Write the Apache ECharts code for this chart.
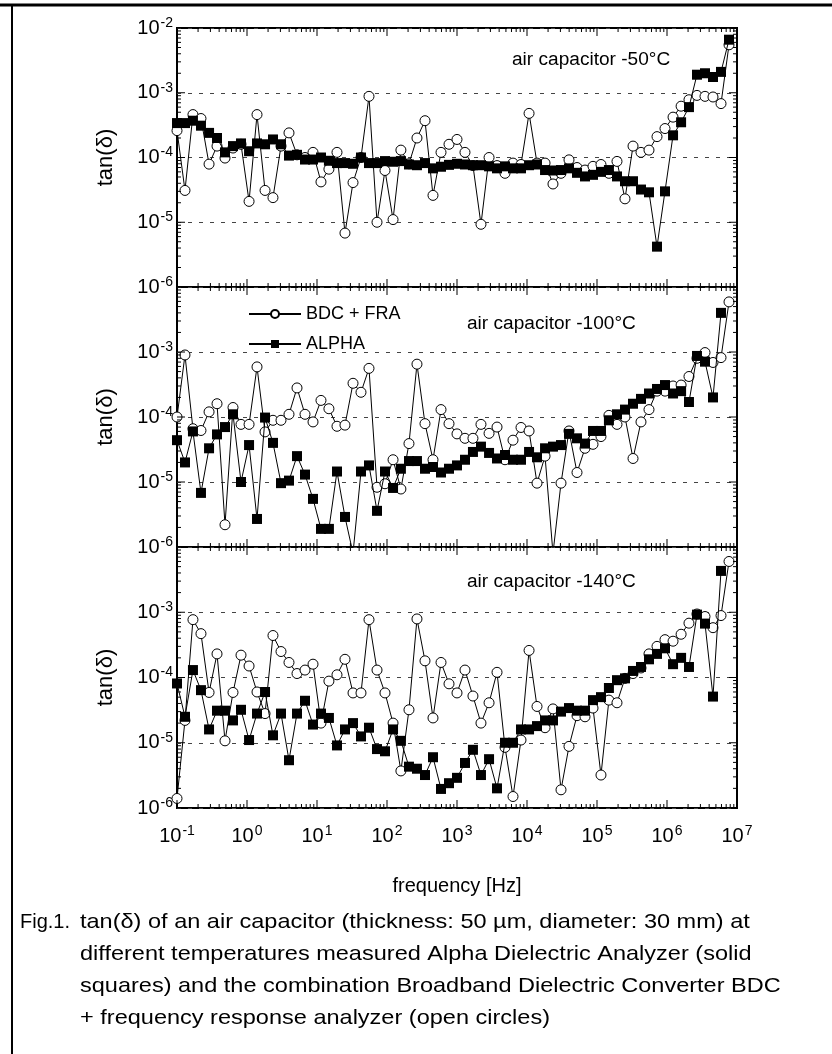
<!DOCTYPE html>
<html>
<head>
<meta charset="utf-8">
<script src="https://cdn.jsdelivr.net/npm/echarts@6/dist/echarts.min.js"></script>
<style>
  html, body { margin: 0; padding: 0; background: #fff; }
  #chart { width: 832px; height: 1054px; }
</style>
</head>
<body>
<div id="chart"></div>
<script>
// measurement frequencies [Hz]
const freq = [
  0.1, 0.13, 0.169, 0.22, 0.287, 0.373, 0.485, 0.631, 0.821,
  1.07, 1.39, 1.81, 2.35, 3.06, 3.98, 5.18, 6.74, 8.77,
  11.4, 14.8, 19.3, 25.1, 32.7, 42.5, 55.3, 72, 93.6,
  122, 158, 206, 268, 349, 454, 591, 769,
  1000, 1300, 1690, 2200, 2870, 3730, 4850, 6310, 8210,
  10700, 13900, 18100, 23500, 30600, 39800, 51800, 67400, 87700,
  114000, 148000, 193000, 251000, 327000, 425000, 553000, 720000, 936000,
  1220000, 1590000, 2060000, 2680000, 3490000, 4540000, 5910000, 7690000
];

// -50°C
const bdc50 = [
  2.6e-4, 3.1e-5, 4.6e-4, 4.0e-4, 7.9e-5, 1.5e-4, 9.8e-5, 1.4e-4, 1.6e-4, 2.1e-5,
  4.6e-4, 3.1e-5, 2.4e-5, 1.5e-4, 2.4e-4, 1.1e-4, 1.0e-4, 1.2e-4, 4.2e-5, 6.6e-5,
  1.2e-4, 6.8e-6, 4.1e-5, 1.0e-4, 8.8e-4, 1.0e-5, 6.3e-5, 1.1e-5, 1.3e-4, 8.0e-5,
  2.0e-4, 3.7e-4, 2.6e-5, 1.2e-4, 1.6e-4, 1.9e-4, 1.2e-4, 7.5e-5, 9.3e-6, 1.0e-4,
  7.5e-5, 5.7e-5, 8.2e-5, 7.8e-5, 4.8e-4, 8.2e-5, 8.2e-5, 3.9e-5, 5.7e-5, 9.2e-5,
  7.0e-5, 6.4e-5, 7.3e-5, 7.8e-5, 5.7e-5, 8.7e-5, 2.3e-5, 1.5e-4, 1.2e-4, 1.3e-4,
  2.1e-4, 2.8e-4, 4.2e-4, 6.2e-4, 7.8e-4, 9.1e-4, 8.8e-4, 8.6e-4, 6.8e-4, 5.5e-3
];
const alpha50 = [
  3.4e-4, 3.4e-4, 3.7e-4, 3.1e-4, 2.4e-4, 2.0e-4, 1.2e-4, 1.5e-4, 1.65e-4, 1.25e-4,
  1.65e-4, 1.6e-4, 1.9e-4, 1.6e-4, 1.07e-4, 1.1e-4, 9.3e-5, 9.3e-5, 1.0e-4, 8.9e-5,
  8.2e-5, 8.2e-5, 8.0e-5, 1.0e-4, 8.2e-5, 8.2e-5, 8.8e-5, 8.6e-5, 8.8e-5, 7.8e-5,
  7.6e-5, 8.2e-5, 6.8e-5, 7.2e-5, 7.7e-5, 8.0e-5, 7.8e-5, 7.6e-5, 7.6e-5, 7.3e-5,
  6.8e-5, 7.3e-5, 6.8e-5, 6.8e-5, 7.6e-5, 7.8e-5, 6.4e-5, 6.3e-5, 6.4e-5, 6.8e-5,
  5.8e-5, 5.1e-5, 5.4e-5, 6.0e-5, 6.4e-5, 5.1e-5, 4.3e-5, 4.3e-5, 3.2e-5, 2.9e-5,
  4.2e-6, 3.0e-5, 2.2e-4, 3.5e-4, 6.0e-4, 1.9e-3, 2.0e-3, 1.75e-3, 2.1e-3, 6.6e-3
];

// -100°C
const bdc100 = [
  1.0e-4, 9.0e-4, 6.6e-5, 6.2e-5, 1.2e-4, 1.6e-4, 2.2e-6, 1.4e-4, 7.7e-5, 7.7e-5,
  5.9e-4, 5.9e-5, 8.9e-5, 8.9e-5, 1.1e-4, 2.8e-4, 1.1e-4, 8.4e-5, 1.8e-4, 1.34e-4,
  7.2e-5, 7.5e-5, 3.3e-4, 2.4e-4, 5.6e-4, 8.3e-6, 9.4e-6, 2.2e-5, 7.8e-6, 3.9e-5,
  6.5e-4, 7.9e-5, 2.2e-5, 1.3e-4, 7.9e-5, 5.5e-5, 4.7e-5, 4.7e-5, 7.7e-5, 5.6e-5,
  7.0e-5, 2.2e-5, 4.4e-5, 6.9e-5, 6.1e-5, 9.6e-6, 2.5e-5, 8.0e-7, 9.6e-6, 6.1e-5,
  1.4e-5, 3.3e-5, 3.8e-5, 5.0e-5, 1.06e-4, 7.7e-5, 1.0e-4, 2.3e-5, 8.4e-5, 1.3e-4,
  2.5e-4, 2.5e-4, 3.0e-4, 3.1e-4, 4.2e-4, 8.0e-4, 9.8e-4, 6.9e-4, 8.2e-4, 5.9e-3
];
const alpha100 = [
  4.4e-5, 2.0e-5, 6.0e-5, 6.8e-6, 3.3e-5, 5.4e-5, 7.0e-5, 1.1e-4, 1.0e-5, 3.7e-5,
  2.7e-6, 9.8e-5, 4.0e-5, 9.6e-6, 1.05e-5, 2.5e-5, 1.3e-5, 5.5e-6, 1.9e-6, 1.9e-6,
  1.45e-5, 2.9e-6, 8.0e-7, 1.45e-5, 1.8e-5, 3.6e-6, 1.45e-5, 8.1e-6, 1.6e-5, 2.1e-5,
  2.1e-5, 1.6e-5, 1.7e-5, 1.4e-5, 1.6e-5, 1.8e-5, 2.2e-5, 2.9e-5, 3.5e-5, 2.8e-5,
  2.3e-5, 2.6e-5, 2.2e-5, 2.2e-5, 2.9e-5, 2.4e-5, 3.3e-5, 3.5e-5, 3.7e-5, 5.5e-5,
  4.7e-5, 3.9e-5, 6.1e-5, 6.1e-5, 8.9e-5, 1.1e-4, 1.3e-4, 1.6e-4, 1.9e-4, 2.3e-4,
  2.7e-4, 3.1e-4, 2.3e-4, 2.5e-4, 1.7e-4, 8.7e-4, 7.1e-4, 2.0e-4, 4.0e-3, null
];

// -140°C
const bdc140 = [
  1.4e-6, 2.2e-5, 7.7e-4, 4.7e-4, 5.9e-5, 2.3e-4, 1.07e-5, 5.9e-5, 2.2e-4, 1.5e-4,
  6.0e-5, 2.8e-5, 4.4e-4, 2.5e-4, 1.7e-4, 1.15e-4, 1.3e-4, 1.6e-4, 2.0e-5, 8.8e-5,
  1.1e-4, 1.9e-4, 5.8e-5, 5.8e-5, 7.7e-4, 1.3e-4, 5.8e-5, 2.0e-5, 3.7e-6, 3.2e-5,
  7.9e-4, 1.8e-4, 2.4e-5, 1.7e-4, 8.0e-5, 5.8e-5, 1.3e-4, 5.2e-5, 2.0e-5, 4.1e-5,
  1.2e-4, 8.5e-6, 1.5e-6, 1.1e-5, 2.6e-4, 3.6e-5, 1.7e-5, 3.3e-5, 1.9e-6, 8.8e-6,
  2.6e-5, 2.5e-5, 3.4e-5, 3.2e-6, 4.5e-5, 4.1e-5, 9.7e-5, 1.15e-4, 1.4e-4, 2.3e-4,
  3.0e-4, 3.8e-4, 3.6e-4, 4.6e-4, 6.8e-4, 9.4e-4, 8.6e-4, 5.8e-4, 8.9e-4, 6.0e-3
];
const alpha140 = [
  8.1e-5, 2.5e-5, 1.3e-4, 6.4e-5, 1.6e-5, 3.1e-5, 3.1e-5, 2.2e-5, 3.2e-5, 1.1e-5,
  2.8e-5, 6.0e-5, 1.3e-5, 2.8e-5, 5.4e-6, 2.8e-5, 4.4e-5, 1.9e-5, 2.8e-5, 2.4e-5,
  9.1e-6, 1.6e-5, 2.0e-5, 1.25e-5, 1.7e-5, 8.0e-6, 7.4e-6, 1.6e-5, 1.07e-5, 4.3e-6,
  4.0e-6, 3.2e-6, 6.0e-6, 1.96e-6, 2.4e-6, 2.9e-6, 4.9e-6, 7.8e-6, 3.2e-6, 5.6e-6,
  2.0e-6, 1.0e-5, 1.0e-5, 1.6e-5, 1.6e-5, 1.8e-5, 2.2e-5, 2.2e-5, 3.0e-5, 3.4e-5,
  3.1e-5, 3.1e-5, 4.5e-5, 5.0e-5, 6.9e-5, 9.1e-5, 9.7e-5, 1.26e-4, 1.45e-4, 1.9e-4,
  2.3e-4, 2.8e-4, 1.6e-4, 2.0e-4, 1.45e-4, 9.2e-4, 6.7e-4, 5.1e-5, 4.3e-3, null
];

const panelLabels = ['air capacitor -50°C', 'air capacitor -100°C', 'air capacitor -140°C'];
const seriesNames = ['BDC + FRA', 'ALPHA'];
const xExponents = [-1, 7];
const yExponents = [-6, -2];
const captionHead = 'Fig.1.';
const captionLines = [
  'tan(δ) of an air capacitor (thickness: 50 µm, diameter: 30 mm) at',
  'different temperatures measured Alpha Dielectric Analyzer (solid',
  'squares) and the combination Broadband Dielectric Converter BDC',
  '+ frequency response analyzer (open circles)'
];

const FONT = '"Liberation Sans", Arial, sans-serif';
const NARROW = '"Liberation Sans Narrow", "Liberation Sans", Arial, sans-serif';
const X_MIN = Math.pow(10, xExponents[0]), X_MAX = Math.pow(10, xExponents[1]);
const Y_MIN = Math.pow(10, yExponents[0]), Y_MAX = Math.pow(10, yExponents[1]);

const panels = [
  { top: 28, height: 259, bdc: bdc50, alpha: alpha50, label: panelLabels[0], lx: 512, ly: 60 },
  { top: 287, height: 260, bdc: bdc100, alpha: alpha100, label: panelLabels[1], lx: 467, ly: 324 },
  { top: 547, height: 261, bdc: bdc140, alpha: alpha140, label: panelLabels[2], lx: 467, ly: 582 }
];
const GRID_LEFT = 177, GRID_WIDTH = 560;

// tick positions (decades + 2..9 in between)
const xTicks = [];
for (let e = xExponents[0]; e <= xExponents[1]; e++) {
  xTicks.push([Math.pow(10, e), 1e-4, 1]);
  if (e < xExponents[1]) for (let k = 2; k <= 9; k++) xTicks.push([k * Math.pow(10, e), 1e-4, 0]);
}
const yTicks = [];
for (let e = yExponents[0]; e <= yExponents[1]; e++) {
  yTicks.push([1, Math.pow(10, e), 1]);
  if (e < yExponents[1]) for (let k = 2; k <= 9; k++) yTicks.push([1, k * Math.pow(10, e), 0]);
}

const powLabel = v => '{b|10}{s|' + Math.round(Math.log10(v)) + '}';
// lower panels leave the top label to the panel above
const powLabelNoTop = v => (v >= Y_MAX * 0.999 ? '' : powLabel(v));
const powRich = {
  b: { fontSize: 20, lineHeight: 24, fontFamily: FONT, color: '#000' },
  s: { fontSize: 14, verticalAlign: 'top', fontFamily: FONT, color: '#000', padding: [0, 0, 0, 1] }
};

const tickLine = (x1, y1, x2, y2) => ({
  type: 'line', shape: { x1, y1, x2, y2 }, style: { stroke: '#000', lineWidth: 1 }
});

const grids = [], xAxes = [], yAxes = [], series = [];

panels.forEach((p, g) => {
  grids.push({
    left: GRID_LEFT, width: GRID_WIDTH, top: p.top, height: p.height,
    show: true, borderColor: '#000', borderWidth: 2, backgroundColor: 'transparent'
  });
  xAxes.push({
    type: 'log', logBase: 10, gridIndex: g, min: X_MIN, max: X_MAX, splitNumber: 8,
    axisLine: { show: false }, axisTick: { show: false }, splitLine: { show: false },
    axisLabel: g === 2
      ? { show: true, margin: 16, formatter: powLabel, rich: powRich }
      : { show: false },
    name: g === 2 ? 'frequency [Hz]' : '',
    nameLocation: 'middle', nameGap: 68,
    nameTextStyle: { fontSize: 20, fontFamily: NARROW, color: '#000' }
  });
  yAxes.push({
    type: 'log', logBase: 10, gridIndex: g, min: Y_MIN, max: Y_MAX, splitNumber: 4,
    axisLine: { show: false }, axisTick: { show: false },
    splitLine: { show: true, lineStyle: { color: '#444', width: 1, type: [4, 7] } },
    axisLabel: {
      show: true, margin: 4, formatter: g === 0 ? powLabel : powLabelNoTop, rich: powRich
    },
    name: 'tan(δ)', nameLocation: 'middle', nameGap: 60, nameRotate: 90,
    nameTextStyle: { fontSize: 22, fontFamily: NARROW, color: '#000' }
  });

  series.push({
    name: seriesNames[0], type: 'line', xAxisIndex: g, yAxisIndex: g,
    data: freq.map((f, i) => [f, p.bdc[i]]),
    symbol: 'circle', symbolSize: 10, connectNulls: true,
    lineStyle: { color: '#000', width: 1 },
    itemStyle: { color: '#fff', borderColor: '#000', borderWidth: 1 },
    emphasis: { disabled: true }, z: 3
  });
  series.push({
    name: seriesNames[1], type: 'line', xAxisIndex: g, yAxisIndex: g,
    data: freq.map((f, i) => [f, p.alpha[i]]),
    symbol: 'rect', symbolSize: 10, connectNulls: true,
    lineStyle: { color: '#000', width: 1 },
    itemStyle: { color: '#000', borderColor: '#000', borderWidth: 0 },
    emphasis: { disabled: true }, z: 4
  });

  // inward ticks on all four sides
  series.push({
    type: 'custom', xAxisIndex: g, yAxisIndex: g, data: xTicks, silent: true, z: 5,
    encode: { x: 0, y: 1 },
    renderItem: (params, api) => {
      const v = api.value(0);
      const len = api.value(2) ? 8 : 4;
      const b = api.coord([v, Y_MIN]);
      const t = api.coord([v, Y_MAX]);
      return { type: 'group', children: [
        tickLine(b[0], b[1], b[0], b[1] - len),
        tickLine(t[0], t[1], t[0], t[1] + len)
      ] };
    }
  });
  series.push({
    type: 'custom', xAxisIndex: g, yAxisIndex: g, data: yTicks, silent: true, z: 5,
    encode: { x: 0, y: 1 },
    renderItem: (params, api) => {
      const v = api.value(1);
      const len = api.value(2) ? 8 : 4;
      const l = api.coord([X_MIN, v]);
      const r = api.coord([X_MAX, v]);
      return { type: 'group', children: [
        tickLine(l[0], l[1], l[0] + len, l[1]),
        tickLine(r[0], r[1], r[0] - len, r[1])
      ] };
    }
  });
});

const graphic = [
  { type: 'line', shape: { x1: 0, y1: 5, x2: 832, y2: 5 }, style: { stroke: '#000', lineWidth: 3 } },
  { type: 'line', shape: { x1: 12, y1: 5, x2: 12, y2: 1054 }, style: { stroke: '#000', lineWidth: 2 } }
];
panels.forEach(p => {
  graphic.push({
    type: 'text', x: p.lx, y: p.ly, scaleX: 1.06,
    style: { text: p.label, font: '18px ' + FONT, fill: '#000', verticalAlign: 'middle' }
  });
});
graphic.push({
  type: 'text', x: 20, y: 922,
  style: { text: captionHead, font: '20px ' + FONT, fill: '#000', verticalAlign: 'middle' }
});
captionLines.forEach((t, i) => {
  graphic.push({
    type: 'text', x: 80, y: 922 + i * 32, scaleX: 1.12,
    style: { text: t, font: '21px ' + FONT, fill: '#000', verticalAlign: 'middle' }
  });
});

const chart = echarts.init(document.getElementById('chart'));
chart.setOption({
  backgroundColor: '#fff',
  animation: false,
  grid: grids,
  xAxis: xAxes,
  yAxis: yAxes,
  legend: {
    data: seriesNames,
    left: 243, top: 300, orient: 'vertical', itemGap: 12,
    itemWidth: 52, itemHeight: 10, selectedMode: false,
    textStyle: { fontSize: 18, fontFamily: FONT, color: '#000' }
  },
  series: series,
  graphic: graphic
});
</script>
</body>
</html>
